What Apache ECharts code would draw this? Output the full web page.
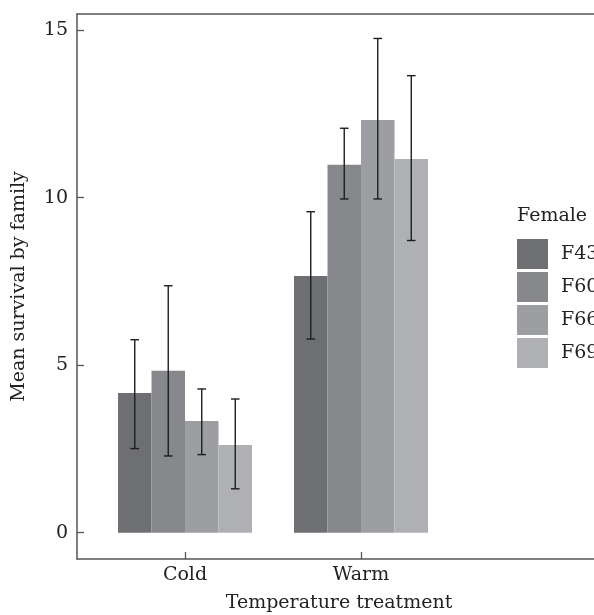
<!DOCTYPE html>
<html>
<head>
<meta charset="utf-8">
<script src="https://cdn.jsdelivr.net/npm/echarts@6/dist/echarts.min.js"></script>
<style>html,body{margin:0;padding:0;background:#fff}#c{width:594px;height:615px}</style>
</head>
<body>
<div id="c"></div>
<script>
const categories = ['Cold', 'Warm'];
const families = ['F43', 'F60', 'F66', 'F69'];
const meanF43 = [4.17, 7.66];
const meanF60 = [4.83, 10.98];
const meanF66 = [3.33, 12.32];
const meanF69 = [2.62, 11.15];
const lowF43 = [2.51, 5.78];
const highF43 = [5.76, 9.58];
const lowF60 = [2.29, 9.96];
const highF60 = [7.37, 12.07];
const lowF66 = [2.33, 9.96];
const highF66 = [4.29, 14.75];
const lowF69 = [1.31, 8.72];
const highF69 = [3.99, 13.64];
const yTicks = [0, 5, 10, 15];
const colors = ['#6e6f73', '#87888c', '#9d9ea2', '#afb0b4'];

const means = [meanF43, meanF60, meanF66, meanF69];
const lows = [lowF43, lowF60, lowF66, lowF69];
const highs = [highF43, highF60, highF66, highF69];

const FONT = 'DejaVu Serif';
const FS = 19;
const TXT = '#222';
const AX = '#555';
const yMin = -0.785, yMax = 15.48;
const catGap = 0.2386;

const series = [];
families.forEach((f, i) => {
  series.push({
    name: f, type: 'bar', xAxisIndex: 2, yAxisIndex: 1,
    data: means[i], barGap: '0%', barCategoryGap: (catGap * 100) + '%',
    itemStyle: { color: colors[i] }, silent: true
  });
});
families.forEach((f, i) => {
  series.push({
    type: 'custom', xAxisIndex: 2, yAxisIndex: 1, z: 5, silent: true,
    data: categories.map((c, k) => [k, lows[i][k], highs[i][k]]),
    renderItem: function (params, api) {
      const band = api.size([1, 0])[0];
      const bw = band * (1 - catGap) / families.length;
      const off = (i - (families.length - 1) / 2) * bw;
      const lo = api.coord([api.value(0), api.value(1)]);
      const hi = api.coord([api.value(0), api.value(2)]);
      const x = lo[0] + off;
      const cap = 4.3;
      const st = { stroke: '#1e1e1e', lineWidth: 1.4 };
      return { type: 'group', children: [
        { type: 'line', shape: { x1: x, y1: lo[1], x2: x, y2: hi[1] }, style: st },
        { type: 'line', shape: { x1: x - cap, y1: lo[1], x2: x + cap, y2: lo[1] }, style: st },
        { type: 'line', shape: { x1: x - cap, y1: hi[1], x2: x + cap, y2: hi[1] }, style: st }
      ]};
    }
  });
});

const chart = echarts.init(document.getElementById('c'), null, { renderer: 'canvas' });
chart.setOption({
  animation: false,
  textStyle: { fontFamily: FONT, color: TXT },
  grid: [
    { left: 77, right: -7, top: 14, bottom: 56, containLabel: false, outerBoundsMode: 'none' },
    { left: 97, width: 352, top: 14, bottom: 56, containLabel: false, outerBoundsMode: 'none' }
  ],
  xAxis: [
    { gridIndex: 0, type: 'value', min: 0, max: 1, position: 'bottom',
      axisLine: { show: true, onZero: false, lineStyle: { color: AX, width: 1.5 } },
      axisTick: { show: false }, axisLabel: { show: false }, splitLine: { show: false },
      name: 'Temperature treatment', nameLocation: 'middle', nameGap: 35,
      nameTextStyle: { fontFamily: FONT, fontSize: FS, color: TXT } },
    { gridIndex: 0, type: 'value', min: 0, max: 1, position: 'top',
      axisLine: { show: true, onZero: false, lineStyle: { color: AX, width: 1.5 } },
      axisTick: { show: false }, axisLabel: { show: false }, splitLine: { show: false } },
    { gridIndex: 1, type: 'category', data: categories, position: 'bottom',
      axisLine: { show: false, onZero: false },
      axisTick: { show: true, inside: true, length: 7, alignWithLabel: true, lineStyle: { color: AX, width: 1.3 } },
      axisLabel: { fontFamily: FONT, fontSize: FS, color: TXT, margin: 7 },
      splitLine: { show: false } }
  ],
  yAxis: [
    { gridIndex: 0, type: 'value', min: yMin, max: yMax,
      axisLine: { show: true, onZero: false, lineStyle: { color: AX, width: 1.5 } },
      axisTick: { show: true, inside: true, length: 7, customValues: yTicks, lineStyle: { color: AX, width: 1.3 } },
      axisLabel: { fontFamily: FONT, fontSize: FS, color: TXT, margin: 9, customValues: yTicks },
      splitLine: { show: false },
      name: 'Mean survival by family', nameLocation: 'middle', nameGap: 48, nameRotate: 90,
      nameTextStyle: { fontFamily: FONT, fontSize: FS, color: TXT } },
    { gridIndex: 1, type: 'value', min: yMin, max: yMax, show: false }
  ],
  legend: {
    data: families, orient: 'vertical', left: 517, top: 239,
    itemWidth: 31, itemHeight: 30, itemGap: 3, icon: 'rect', padding: 0,
    textStyle: { fontFamily: FONT, fontSize: FS, color: TXT, padding: [0, 0, 0, 8] },
    selectedMode: false
  },
  title: { text: 'Female', left: 517, top: 207, padding: 0,
    textStyle: { fontFamily: FONT, fontSize: FS, fontWeight: 'normal', color: TXT } },
  series: series
});
</script>
</body>
</html>
